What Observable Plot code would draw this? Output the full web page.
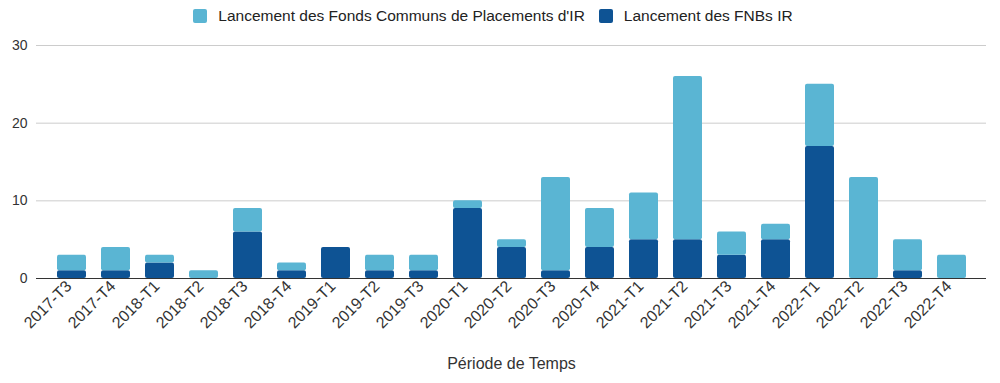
<!DOCTYPE html>
<html><head><meta charset="utf-8">
<script src="https://cdn.jsdelivr.net/npm/d3@7"></script>
<script src="https://cdn.jsdelivr.net/npm/@observablehq/plot@0.6"></script>
<style>
body{margin:0;background:#fff;font-family:Arial,"Liberation Sans",sans-serif;}
#legend{height:32px;display:flex;justify-content:center;align-items:center;gap:14px;font-size:15.5px;color:#222;padding-right:14px;}
#legend span.sw{display:inline-block;width:14px;height:14px;border-radius:2px;margin-right:11px;vertical-align:-2px;}
</style></head>
<body>
<div id="legend"></div>
<div id="chart"></div>
<script>
const periods = ["2017-T3","2017-T4","2018-T1","2018-T2","2018-T3","2018-T4","2019-T1","2019-T2","2019-T3","2020-T1","2020-T2","2020-T3","2020-T4","2021-T1","2021-T2","2021-T3","2021-T4","2022-T1","2022-T2","2022-T3","2022-T4"];
const fnbs   = [1,1,2,0,6,1,4,1,1,9,4,1,4,5,5,3,5,17,0,1,0];
const fonds  = [2,3,1,1,3,1,0,2,2,1,1,12,5,6,21,3,2,8,13,4,3];
const seriesNames = ["Lancement des Fonds Communs de Placements d'IR","Lancement des FNBs IR"];
const colors = ["#5ab5d3","#0e5394"];
const yTicks = [0,10,20,30];

const data = [];
periods.forEach((p,i)=>{
  data.push({period:p, series:seriesNames[1], value:fnbs[i]});
  data.push({period:p, series:seriesNames[0], value:fonds[i]});
});

document.getElementById("legend").innerHTML = seriesNames.map((n,i)=>
  `<span><span class="sw" style="background:${colors[i]}"></span>${n}</span>`).join("");

const chart = Plot.plot({
  width:1000, height:351,
  marginTop:13, marginBottom:105, marginLeft:36, marginRight:14,
  style:{fontFamily:"Arial, 'Liberation Sans', sans-serif", fontSize:"14px", color:"#444"},
  x:{domain:periods, padding:0.35, label:null},
  y:{domain:[0,30], label:null},
  color:{domain:seriesNames, range:colors},
  marks:[
    Plot.gridY(yTicks,{stroke:"#ccc", strokeOpacity:1}),
    Plot.barY(data, Plot.stackY({order:seriesNames.slice().reverse(), x:"period", y:"value", fill:"series", rx:2})),
    Plot.ruleY([0],{stroke:"#333", strokeWidth:1}),
    Plot.axisY(yTicks,{tickSize:0, tickPadding:9, fontSize:14, fill:"#333", label:null}),
    Plot.axisX({tickSize:0, tickRotate:-45, tickPadding:5, fontSize:16, fill:"#333", dx:-3, label:"Période de Temps", labelAnchor:"center", labelOffset:90})
  ]
});
document.getElementById("chart").appendChild(chart);
</script>
</body></html>
